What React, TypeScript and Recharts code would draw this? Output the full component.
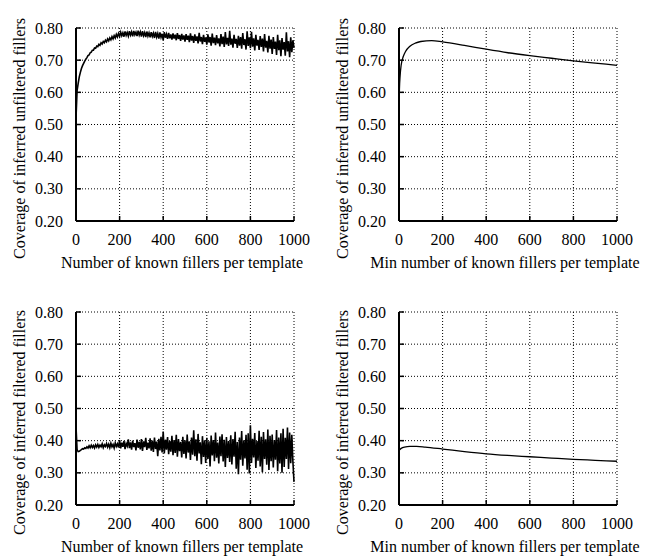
import { LineChart, Line, XAxis, YAxis, CartesianGrid } from 'recharts';

const STEP = 5;

const unfilteredByFillers = [
  0.520, 0.605, 0.628, 0.648, 0.662, 0.674, 0.683, 0.690, 0.697, 0.703,
  0.708, 0.714, 0.716, 0.723, 0.725, 0.731, 0.731, 0.738, 0.737, 0.744,
  0.742, 0.749, 0.746, 0.754, 0.750, 0.758, 0.754, 0.762, 0.757, 0.766,
  0.760, 0.769, 0.763, 0.773, 0.766, 0.776, 0.769, 0.780, 0.772, 0.783,
  0.774, 0.787, 0.776, 0.785, 0.773, 0.789, 0.777, 0.786, 0.775, 0.790,
  0.778, 0.788, 0.774, 0.791, 0.779, 0.787, 0.775, 0.792, 0.778, 0.788,
  0.773, 0.790, 0.776, 0.786, 0.772, 0.789, 0.775, 0.785, 0.771, 0.787,
  0.774, 0.784, 0.769, 0.788, 0.772, 0.783, 0.767, 0.786, 0.771, 0.782,
  0.762, 0.787, 0.770, 0.781, 0.766, 0.785, 0.768, 0.780, 0.764, 0.783,
  0.767, 0.779, 0.762, 0.784, 0.766, 0.778, 0.760, 0.782, 0.764, 0.777,
  0.758, 0.781, 0.763, 0.776, 0.756, 0.783, 0.761, 0.775, 0.754, 0.780,
  0.760, 0.774, 0.752, 0.785, 0.758, 0.772, 0.750, 0.779, 0.757, 0.771,
  0.748, 0.780, 0.755, 0.772, 0.745, 0.783, 0.753, 0.770, 0.747, 0.778,
  0.752, 0.768, 0.743, 0.781, 0.750, 0.773, 0.741, 0.787, 0.749, 0.769,
  0.744, 0.791, 0.748, 0.767, 0.739, 0.779, 0.751, 0.766, 0.738, 0.776,
  0.745, 0.772, 0.736, 0.784, 0.747, 0.765, 0.733, 0.790, 0.744, 0.771,
  0.737, 0.788, 0.742, 0.768, 0.730, 0.779, 0.745, 0.763, 0.732, 0.775,
  0.741, 0.767, 0.727, 0.781, 0.739, 0.760, 0.724, 0.776, 0.736, 0.764,
  0.719, 0.772, 0.735, 0.758, 0.716, 0.779, 0.731, 0.762, 0.712, 0.769,
  0.733, 0.756, 0.714, 0.787, 0.727, 0.759, 0.709, 0.771, 0.725, 0.762,
  0.738,
];

const filteredByFillers = [
  0.445, 0.372, 0.366, 0.367, 0.370, 0.372, 0.375, 0.374, 0.378, 0.376,
  0.381, 0.377, 0.384, 0.378, 0.386, 0.379, 0.385, 0.377, 0.387, 0.380,
  0.388, 0.379, 0.386, 0.381, 0.390, 0.378, 0.387, 0.382, 0.391, 0.380,
  0.389, 0.378, 0.392, 0.381, 0.388, 0.377, 0.393, 0.382, 0.390, 0.379,
  0.402, 0.376, 0.394, 0.381, 0.399, 0.374, 0.391, 0.383, 0.404, 0.377,
  0.395, 0.372, 0.400, 0.380, 0.392, 0.370, 0.403, 0.378, 0.396, 0.373,
  0.405, 0.368, 0.398, 0.380, 0.409, 0.371, 0.394, 0.376, 0.407, 0.369,
  0.400, 0.365, 0.410, 0.374, 0.397, 0.352, 0.406, 0.370, 0.412, 0.363,
  0.428, 0.360, 0.403, 0.372, 0.411, 0.358, 0.399, 0.366, 0.415, 0.355,
  0.402, 0.362, 0.418, 0.350, 0.405, 0.367, 0.396, 0.348, 0.412, 0.359,
  0.401, 0.345, 0.419, 0.363, 0.398, 0.340, 0.410, 0.356, 0.432, 0.352,
  0.404, 0.338, 0.421, 0.360, 0.395, 0.327, 0.414, 0.349, 0.401, 0.331,
  0.409, 0.343, 0.398, 0.320, 0.416, 0.354, 0.402, 0.336, 0.425, 0.347,
  0.394, 0.329, 0.413, 0.352, 0.420, 0.335, 0.403, 0.318, 0.411, 0.346,
  0.399, 0.334, 0.417, 0.326, 0.405, 0.350, 0.428, 0.313, 0.396, 0.296,
  0.410, 0.341, 0.430, 0.322, 0.401, 0.345, 0.418, 0.310, 0.423, 0.298,
  0.448, 0.331, 0.406, 0.348, 0.424, 0.315, 0.399, 0.338, 0.431, 0.320,
  0.412, 0.302, 0.427, 0.343, 0.404, 0.325, 0.435, 0.309, 0.415, 0.336,
  0.419, 0.317, 0.402, 0.341, 0.433, 0.305, 0.410, 0.329, 0.423, 0.300,
  0.437, 0.318, 0.409, 0.343, 0.441, 0.312, 0.425, 0.330, 0.418, 0.334,
  0.272,
];

// smooth right-hand plots, key points along the curves
const unfilteredMinX = [0, 2, 5, 10, 20, 30, 50, 75, 100, 150, 200, 300, 400, 500, 600, 700, 800, 900, 1000];
const unfilteredMinY = [0.530, 0.610, 0.650, 0.685, 0.712, 0.727, 0.743, 0.753, 0.758, 0.761, 0.757, 0.746, 0.734, 0.723, 0.714, 0.706, 0.698, 0.691, 0.684];

const filteredMinX = [0, 10, 25, 50, 80, 120, 200, 300, 400, 500, 600, 700, 800, 900, 1000];
const filteredMinY = [0.370, 0.376, 0.380, 0.382, 0.382, 0.380, 0.374, 0.366, 0.359, 0.354, 0.350, 0.346, 0.342, 0.339, 0.336];

const xTicks = [0, 200, 400, 600, 800, 1000];
const yTicks = [0.2, 0.3, 0.4, 0.5, 0.6, 0.7, 0.8];

const font = '"Liberation Serif", "Times New Roman", serif';

type Point = { x: number; y: number };

interface PanelProps {
  left: number;
  top: number;
  data: Point[];
  curve: 'linear' | 'monotone';
  xTitle: string;
  yTitle: string;
}

function XTick(props: any) {
  const { x, y, payload } = props;
  return (
    <text x={x} y={y} dy={11.4} textAnchor="middle" fontSize={16} fontFamily={font} fill="#000">
      {payload.value}
    </text>
  );
}

function YTick(props: any) {
  const { x, y, payload } = props;
  return (
    <text x={x} y={y} dy={5.6} textAnchor="end" fontSize={16} fontFamily={font} fill="#000">
      {Number(payload.value).toFixed(2)}
    </text>
  );
}

function Panel({ left, top, data, curve, xTitle, yTitle }: PanelProps) {
  return (
    <div style={{ position: 'absolute', left, top }}>
      <LineChart width={323} height={274} data={data} margin={{ top: 28, right: 29, bottom: 0, left: 0 }}>
        <CartesianGrid stroke="#000" strokeDasharray="1 2" strokeWidth={1} />
        <XAxis
          type="number"
          dataKey="x"
          domain={[0, 1000]}
          ticks={xTicks}
          interval={0}
          height={53}
          tickSize={-5}
          tickMargin={18}
          axisLine={{ stroke: '#000', strokeWidth: 2 }}
          tickLine={{ stroke: '#000', strokeWidth: 1.5 }}
          tick={<XTick />}
          label={{
            content: () => (
              <text x={182} y={268} textAnchor="middle" fontSize={16} fontFamily={font} fill="#000">
                {xTitle}
              </text>
            ),
          }}
        />
        <YAxis
          type="number"
          domain={[0.2, 0.8]}
          ticks={yTicks}
          interval={0}
          width={76}
          tickSize={-5}
          tickMargin={18}
          axisLine={{ stroke: '#000', strokeWidth: 2 }}
          tickLine={{ stroke: '#000', strokeWidth: 1.5 }}
          tick={<YTick />}
          label={{
            content: () => (
              <text
                x={19}
                y={138.5}
                transform="rotate(-90 19 138.5)"
                textAnchor="middle"
                dominantBaseline="central"
                fontSize={16}
                fontFamily={font}
                fill="#000"
              >
                {yTitle}
              </text>
            ),
          }}
        />
        <Line
          dataKey="y"
          type={curve}
          stroke="#000"
          strokeWidth={curve === 'linear' ? 1.6 : 1.3}
          dot={false}
          isAnimationActive={false}
        />
      </LineChart>
    </div>
  );
}

export default function App() {
  const topLeft = unfilteredByFillers.map((y, i) => ({ x: i * STEP, y }));
  const bottomLeft = filteredByFillers.map((y, i) => ({ x: i * STEP, y }));
  const topRight = unfilteredMinX.map((x, i) => ({ x, y: unfilteredMinY[i] }));
  const bottomRight = filteredMinX.map((x, i) => ({ x, y: filteredMinY[i] }));

  return (
    <div style={{ position: 'absolute', left: 0, top: 0, width: 647, height: 558, background: '#fff' }}>
      <Panel
        left={0}
        top={0}
        data={topLeft}
        curve="linear"
        xTitle="Number of known fillers per template"
        yTitle="Coverage of inferred unfiltered fillers"
      />
      <Panel
        left={323}
        top={0}
        data={topRight}
        curve="monotone"
        xTitle="Min number of known fillers per template"
        yTitle="Coverage of inferred unfiltered fillers"
      />
      <Panel
        left={0}
        top={284}
        data={bottomLeft}
        curve="linear"
        xTitle="Number of known fillers per template"
        yTitle="Coverage of inferred filtered fillers"
      />
      <Panel
        left={323}
        top={284}
        data={bottomRight}
        curve="monotone"
        xTitle="Min number of known fillers per template"
        yTitle="Coverage of inferred filtered fillers"
      />
    </div>
  );
}
